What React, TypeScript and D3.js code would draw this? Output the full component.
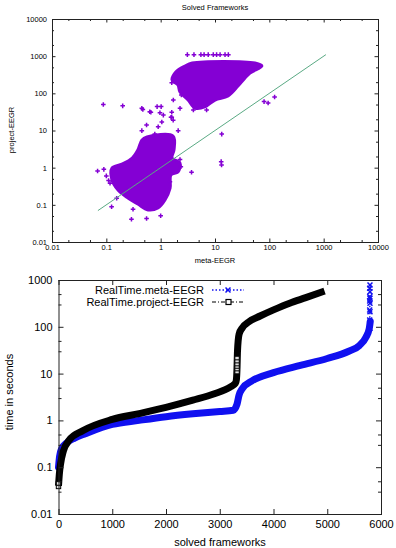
import { useEffect, useRef } from "react"
import * as d3 from "d3"

// ---- top chart: Solved Frameworks (scatter, log/log) ----
const topTicks = [0.01, 0.1, 1, 10, 100, 1000, 10000]

// dense clouds of points, outlined in data units
const upperCloudX = [3.8, 54.5, 73, 44, 35.7, 26.5, 17.4, 10, 6.5, 4.3, 3.2, 2.27, 2.08, 1.62, 1.9, 2.8]
const upperCloudY = [654, 654, 543, 352, 258, 157, 85, 66, 43, 40, 66, 108, 167, 228, 375, 543]
const lowerCloudX = [0.56, 1.69, 1.76, 1.62, 2.27, 2.08, 1.55, 1.49, 1.2, 0.89, 0.585, 0.38, 0.25, 0.164, 0.127, 0.127, 0.194, 0.3, 0.38, 0.45]
const lowerCloudY = [6.7, 7.1, 3.0, 1.82, 1.33, 0.76, 0.64, 0.28, 0.135, 0.082, 0.073, 0.105, 0.153, 0.25, 0.47, 0.98, 1.25, 1.82, 3.0, 5.5]

// single points outside the clouds
const pointsX = [3.1, 4.1, 5.5, 6.3, 7.5, 9.3, 10.7, 12.4, 15.3, 17.6,
  0.088, 0.2, 0.47, 0.66, 0.86, 1.02, 0.97, 1.6, 2.27, 1.6, 4.0, 7.0, 80, 95, 125, 1.97, 1.6, 2.4, 1.71,
  0.45, 0.63, 1.12, 1.55, 0.55, 0.9, 1.7, 1.05, 2.1, 0.78, 0.45,
  13.3, 13, 13.2, 3.7, 2.27, 2.35, 1.48,
  0.069, 0.09, 0.117, 0.19, 0.29, 0.55, 1.0, 0.31, 0.125, 0.155, 0.1, 0.11]
const pointsY = [1100, 1100, 1100, 1100, 1100, 1100, 1100, 1100, 1100, 1100,
  50, 46, 37, 31, 44, 44, 30, 31, 39.5, 22.6, 35.6, 35.6, 60, 55, 80, 311, 193, 90, 66,
  39.5, 32, 26, 22.6, 14, 12.6, 19, 17, 9.9, 8.0, 9.9,
  8.0, 1.45, 1.18, 0.75, 1.66, 1.06, 0.42,
  0.81, 0.9, 0.38, 1.05, 0.041, 0.043, 0.051, 0.076, 0.089, 0.15, 0.6, 0.45]

// y = x reference line
const diagonal = [0.07, 1100]

// ---- bottom chart: solved frameworks vs time ----
const bottomXTicks = [0, 1000, 2000, 3000, 4000, 5000, 6000]
const bottomYTicks = [0.01, 0.1, 1, 10, 100, 1000]

const metaX = [0, 20, 60, 150, 300, 500, 1000, 1500, 2000, 2500, 3000, 3250, 3320, 3360, 3420, 3600, 4000, 4500, 5000, 5400, 5600, 5720, 5780, 5800]
const metaY = [0.1, 0.17, 0.25, 0.33, 0.42, 0.52, 0.82, 1.0, 1.2, 1.38, 1.55, 1.65, 2.2, 3.5, 4.8, 7, 10.5, 15, 21, 30, 40, 60, 90, 130]
const metaTopX = [5795, 5795, 5790, 5795, 5790, 5795, 5790, 5795, 5790, 5795, 5790, 5795]
const metaTopY = [93, 109, 140, 210, 229, 318, 356, 406, 440, 562, 665, 782]

const projectX = [0, 15, 40, 90, 200, 450, 1000, 1500, 2000, 2500, 2900, 3200, 3290, 3310, 3320, 3330, 3360, 3420, 3550, 3750, 4000, 4300, 4600, 4950]
const projectY = [0.04, 0.07, 0.12, 0.22, 0.38, 0.6, 1.05, 1.4, 1.9, 2.7, 3.7, 5.2, 6.2, 7.5, 12, 30, 70, 95, 130, 170, 230, 320, 420, 580]
const projectMidX = [3322, 3322, 3322, 3322, 3322, 3322, 0, 0]
const projectMidY = [10.8, 12.5, 14.2, 16, 18.5, 21.5, 0.038, 0.045]

const PURPLE = "#8400d4"
const BLUE = "#1010f0"
const FONT = "Liberation Sans, Arial, Helvetica, sans-serif"

export default function App() {
  const svgRef = useRef<SVGSVGElement | null>(null)

  useEffect(() => {
    if (!svgRef.current) return
    const svg = d3.select(svgRef.current)
    svg.selectAll("*").remove()

    // draws the box with inward ticks on all four sides
    const frame = (x: any, y: any, xMajor: number[], yMajor: number[], xMinor: number[], yMinor: number[],
      fmt: (d: any) => string, fontSize: number, major: number, minor: number, xPad: number, yPad: number) => {
      const [x0, x1] = x.range()
      const [y0, y1] = y.range()
      const g = svg.append("g").attr("color", "#222")
      const add = (axis: any, tx: number, ty: number, values: number[], size: number, labels: boolean, pad: number) => {
        const a = g.append("g")
          .attr("transform", `translate(${tx},${ty})`)
          .call(axis.tickValues(values).tickSize(-size).tickPadding(pad).tickFormat(labels ? fmt : () => ""))
        a.select(".domain").remove()
        a.attr("font-size", fontSize).attr("font-family", FONT)
        a.selectAll("text").attr("fill", "#000")
      }
      add(d3.axisBottom(x), 0, y0, xMajor, major, true, xPad)
      add(d3.axisTop(x), 0, y1, xMajor, major, false, 0)
      add(d3.axisLeft(y), x0, 0, yMajor, major, true, yPad)
      add(d3.axisRight(y), x1, 0, yMajor, major, false, 0)
      if (xMinor.length) {
        add(d3.axisBottom(x), 0, y0, xMinor, minor, false, 0)
        add(d3.axisTop(x), 0, y1, xMinor, minor, false, 0)
      }
      if (yMinor.length) {
        add(d3.axisLeft(y), x0, 0, yMinor, minor, false, 0)
        add(d3.axisRight(y), x1, 0, yMinor, minor, false, 0)
      }
      g.append("rect")
        .attr("x", x0 + 0.5).attr("y", y1 + 0.5)
        .attr("width", x1 - x0).attr("height", y0 - y1)
        .attr("fill", "none").attr("stroke", "#222").attr("stroke-width", 1)
    }

    // ---------- top chart ----------
    const xT = d3.scaleLog().domain([0.01, 10000]).range([52, 378])
    const yT = d3.scaleLog().domain([0.01, 10000]).range([242, 19])
    const minorT = topTicks.slice(0, -1).flatMap((d) => [d * 2, d * 5])

    const cloud = d3.line<number>()
      .x((d) => d)
      .y((d) => d)
      .curve(d3.curveCatmullRomClosed)
    const drawCloud = (xs: number[], ys: number[]) => {
      const pts = xs.map((d, i) => [xT(d), yT(ys[i])] as [number, number])
      svg.append("path")
        .attr("d", d3.line().curve(d3.curveCatmullRomClosed)(pts))
        .attr("fill", PURPLE)
        .attr("stroke", PURPLE)
        .attr("stroke-width", 3)
        .attr("stroke-linejoin", "round")
    }
    void cloud
    drawCloud(upperCloudX, upperCloudY)
    drawCloud(lowerCloudX, lowerCloudY)

    svg.append("g")
      .selectAll("path")
      .data(pointsX.map((d, i) => ({ x: d, y: pointsY[i] })))
      .enter()
      .append("path")
      .attr("d", (d) => {
        const px = xT(d.x), py = yT(d.y)
        return `M${px - 2.3},${py}h4.6M${px},${py - 2.3}v4.6`
      })
      .attr("stroke", PURPLE)
      .attr("stroke-width", 1.5)

    svg.append("path")
      .attr("d", d3.line<number>().x((d) => xT(d)).y((d) => yT(d))(diagonal))
      .attr("fill", "none")
      .attr("stroke", "#5aaa84")
      .attr("stroke-width", 1)

    frame(xT, yT, topTicks, topTicks, minorT, minorT, (d) => String(d), 7.5, 3.5, 2, 3, 5)

    svg.append("text").attr("x", 215).attr("y", 10).attr("text-anchor", "middle")
      .attr("font-size", 7.5).attr("font-family", FONT).text("Solved Frameworks")
    svg.append("text").attr("x", 215).attr("y", 263).attr("text-anchor", "middle")
      .attr("font-size", 7.5).attr("font-family", FONT).text("meta-EEGR")
    svg.append("text").attr("transform", "translate(14,130) rotate(-90)").attr("text-anchor", "middle")
      .attr("font-size", 7.5).attr("font-family", FONT).text("project-EEGR")

    // ---------- bottom chart ----------
    const xB = d3.scaleLinear().domain([0, 6000]).range([58.5, 381])
    const yB = d3.scaleLog().domain([0.01, 1000]).range([514, 280])
    const minorB = bottomYTicks.slice(0, -1).flatMap((d) => [d * 3, d * 5])

    const curve = d3.line<[number, number]>()
      .x((d) => xB(d[0]))
      .y((d) => yB(d[1]))
      .curve(d3.curveMonotoneX)

    // meta-EEGR
    svg.append("path")
      .attr("d", d3.line<number>().x((d, i) => xB(metaTopX[i])).y((d) => yB(d))(metaTopY))
      .attr("fill", "none").attr("stroke", BLUE).attr("stroke-width", 1.5).attr("stroke-dasharray", "1.5,2")
    svg.append("g").selectAll("path")
      .data(metaTopY.map((d, i) => [metaTopX[i], d]))
      .enter().append("path")
      .attr("d", (d) => {
        const px = xB(d[0]), py = yB(d[1])
        return `M${px - 2.5},${py - 2.5}l5,5M${px - 2.5},${py + 2.5}l5,-5`
      })
      .attr("stroke", BLUE).attr("stroke-width", 1.5)
    svg.append("path")
      .attr("d", curve(metaX.map((d, i) => [d, metaY[i]])))
      .attr("fill", "none").attr("stroke", BLUE).attr("stroke-width", 7)
      .attr("stroke-linecap", "round")

    // project-EEGR
    svg.append("path")
      .attr("d", curve(projectX.map((d, i) => [d, projectY[i]])))
      .attr("fill", "none").attr("stroke", "#000").attr("stroke-width", 7)
      .attr("stroke-linecap", "butt")
    svg.append("g").selectAll("rect")
      .data(projectMidY.map((d, i) => [projectMidX[i], d]))
      .enter().append("rect")
      .attr("x", (d) => xB(d[0]) - 2.2).attr("y", (d) => yB(d[1]) - 1.8)
      .attr("width", 4.4).attr("height", 3.6)
      .attr("fill", "#ddd").attr("stroke", "#000").attr("stroke-width", 1)

    frame(xB, yB, bottomXTicks, bottomYTicks, [], minorB, (d) => String(d), 11, 5, 3, 6, 6)

    // legend
    const legend = svg.append("g").attr("font-size", 11).attr("font-family", FONT)
    legend.append("text").attr("x", 204).attr("y", 294).attr("text-anchor", "end").text("RealTime.meta-EEGR")
    legend.append("text").attr("x", 204).attr("y", 306).attr("text-anchor", "end").text("RealTime.project-EEGR")
    legend.append("line").attr("x1", 212).attr("x2", 244).attr("y1", 290).attr("y2", 290)
      .attr("stroke", BLUE).attr("stroke-width", 1.5).attr("stroke-dasharray", "1.5,2")
    legend.append("path").attr("d", "M225.5,287.5l5,5M225.5,292.5l5,-5").attr("stroke", BLUE).attr("stroke-width", 1.5)
    legend.append("line").attr("x1", 212).attr("x2", 244).attr("y1", 302).attr("y2", 302)
      .attr("stroke", "#000").attr("stroke-width", 1.2).attr("stroke-dasharray", "4,2,1,2")
    legend.append("rect").attr("x", 226).attr("y", 299.5).attr("width", 5).attr("height", 5)
      .attr("fill", "#fff").attr("stroke", "#000").attr("stroke-width", 1.2)

    svg.append("text").attr("x", 220).attr("y", 546).attr("text-anchor", "middle")
      .attr("font-size", 11).attr("font-family", FONT).text("solved frameworks")
    svg.append("text").attr("transform", "translate(13,392) rotate(-90)").attr("text-anchor", "middle")
      .attr("font-size", 11).attr("font-family", FONT).text("time in seconds")
  }, [])

  return (
    <svg
      ref={svgRef}
      width={396}
      height={548}
      style={{ position: "absolute", left: 0, top: 0, background: "#fff" }}
    ></svg>
  )
}
